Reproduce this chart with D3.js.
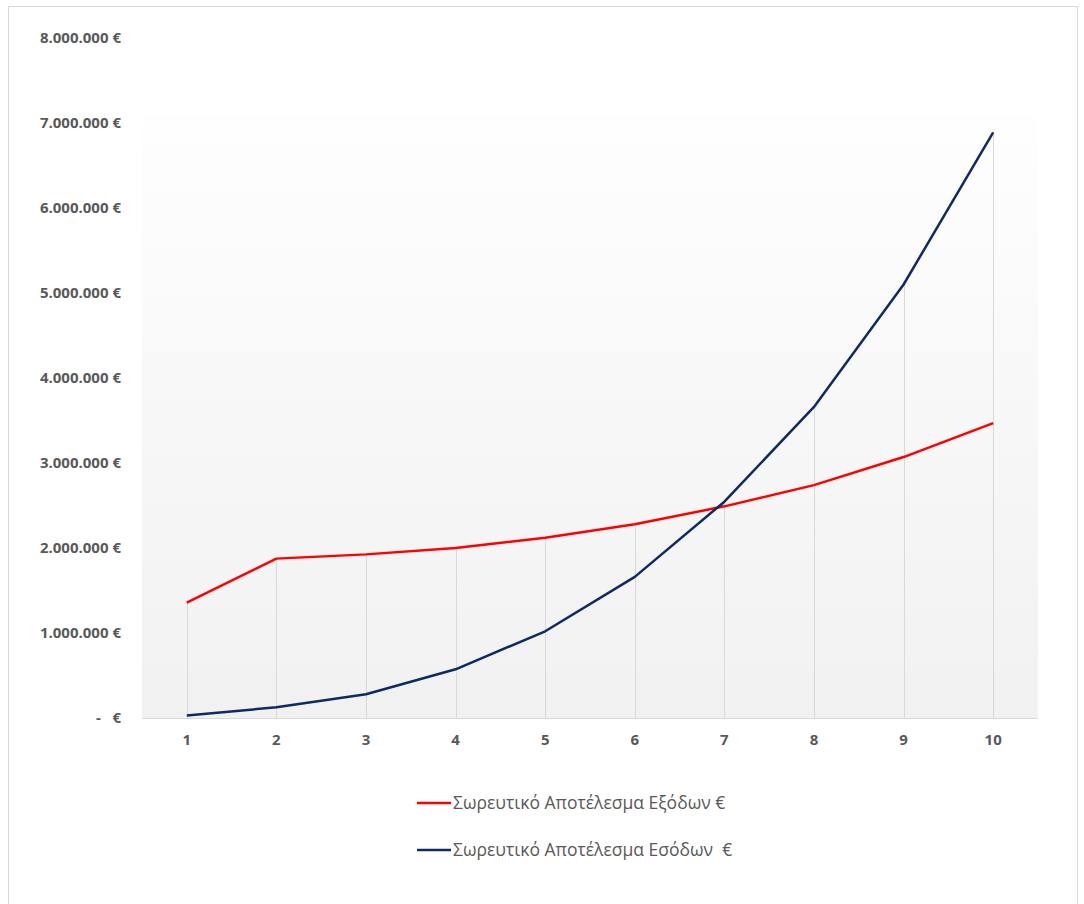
<!DOCTYPE html>
<html>
<head>
<meta charset="utf-8">
<script src="https://cdn.jsdelivr.net/npm/d3@7"></script>
<style>
  html, body { margin: 0; padding: 0; background: #fff; }
  svg { display: block; }
  text { font-family: "Open Sans", "Noto Sans", "DejaVu Sans", sans-serif; }
</style>
</head>
<body>
<svg id="chart" width="1084" height="904"></svg>
<script>
// Years 1..10
const years = [1, 2, 3, 4, 5, 6, 7, 8, 9, 10];
// Cumulative expenses (€)
const expenses = [1357000, 1875000, 1925000, 2000000, 2120000, 2280000, 2490000, 2740000, 3070000, 3470000];
// Cumulative income (€)
const income = [30000, 126000, 280000, 573000, 1020000, 1660000, 2545000, 3660000, 5100000, 6890000];
const yTicks = [0, 1000000, 2000000, 3000000, 4000000, 5000000, 6000000, 7000000, 8000000];
const seriesNames = ["Σωρευτικό Αποτέλεσμα Εξόδων €", "Σωρευτικό Αποτέλεσμα Εσόδων  €"];
const seriesColors = ["#ff0000", "#0e2a63"];

const svg = d3.select("#chart");

// chart frame
svg.append("rect")
  .attr("x", 8.5).attr("y", 6.5).attr("width", 1069).attr("height", 910)
  .attr("fill", "#fff").attr("stroke", "#d9d9d9").attr("stroke-width", 1);

const plot = { left: 142, right: 1038, top: 116, bottom: 718 };

const x = d3.scaleBand().domain(years).range([plot.left, plot.right]);
const y = d3.scaleLinear().domain([0, 8000000]).range([plot.bottom, 38]);

// plot area gradient
const defs = svg.append("defs");
const grad = defs.append("linearGradient").attr("id", "plotBg")
  .attr("x1", 0).attr("y1", 0).attr("x2", 0).attr("y2", 1);
grad.append("stop").attr("offset", "0%").attr("stop-color", "#fefefe");
grad.append("stop").attr("offset", "100%").attr("stop-color", "#f1f1f1");

svg.append("rect")
  .attr("x", plot.left).attr("y", plot.top)
  .attr("width", plot.right - plot.left).attr("height", plot.bottom - plot.top)
  .attr("fill", "url(#plotBg)");

const cx = d => x(d) + x.bandwidth() / 2;

// drop lines from the higher of the two series to the axis
svg.append("g").selectAll("line")
  .data(years)
  .join("line")
  .attr("x1", d => Math.round(cx(d)) + 0.5)
  .attr("x2", d => Math.round(cx(d)) + 0.5)
  .attr("y1", (d, i) => y(Math.max(expenses[i], income[i])))
  .attr("y2", plot.bottom)
  .attr("stroke", "#d9d9d9").attr("stroke-width", 1);

// x axis baseline
svg.append("line")
  .attr("x1", plot.left).attr("x2", plot.right)
  .attr("y1", plot.bottom + 0.5).attr("y2", plot.bottom + 0.5)
  .attr("stroke", "#d9d9d9").attr("stroke-width", 1);

// y axis labels
const fmt = v => v === 0 ? "-   €" : d3.format(",")(v).replace(/,/g, ".") + " €";
const yAxis = d3.axisLeft(y).tickValues(yTicks).tickSize(0).tickPadding(0).tickFormat(fmt);
const gy = svg.append("g").attr("transform", "translate(121,0)").call(yAxis)
  .attr("font-size", null).attr("font-family", null);
gy.select(".domain").remove();
gy.selectAll("text")
  .attr("fill", "#595959")
  .style("font-size", "15px").style("font-weight", "bold")
  .style("white-space", "pre");

// x axis labels
const xAxis = d3.axisBottom(x).tickSize(0).tickPadding(16);
const gx = svg.append("g").attr("transform", `translate(0,${plot.bottom})`).call(xAxis)
  .attr("font-size", null).attr("font-family", null);
gx.select(".domain").remove();
gx.selectAll("text")
  .attr("fill", "#595959")
  .style("font-size", "15px").style("font-weight", "bold");

// series lines
const line = d3.line().x((d, i) => cx(years[i])).y(d => y(d));
[expenses, income].forEach((vals, k) => {
  svg.append("path")
    .datum(vals)
    .attr("d", line)
    .attr("fill", "none")
    .attr("stroke", seriesColors[k])
    .attr("stroke-width", 2.5)
    .attr("stroke-linejoin", "round");
});

// legend
const legend = svg.append("g");
seriesNames.forEach((name, k) => {
  const ly = 803 + k * 47;
  legend.append("line")
    .attr("x1", 417).attr("x2", 451).attr("y1", ly).attr("y2", ly)
    .attr("stroke", seriesColors[k]).attr("stroke-width", 2.5);
  legend.append("text")
    .attr("x", 453).attr("y", ly).attr("dy", "0.35em")
    .attr("fill", "#595959")
    .style("font-size", "17.5px")
    .style("white-space", "pre")
    .text(name);
});
</script>
</body>
</html>
